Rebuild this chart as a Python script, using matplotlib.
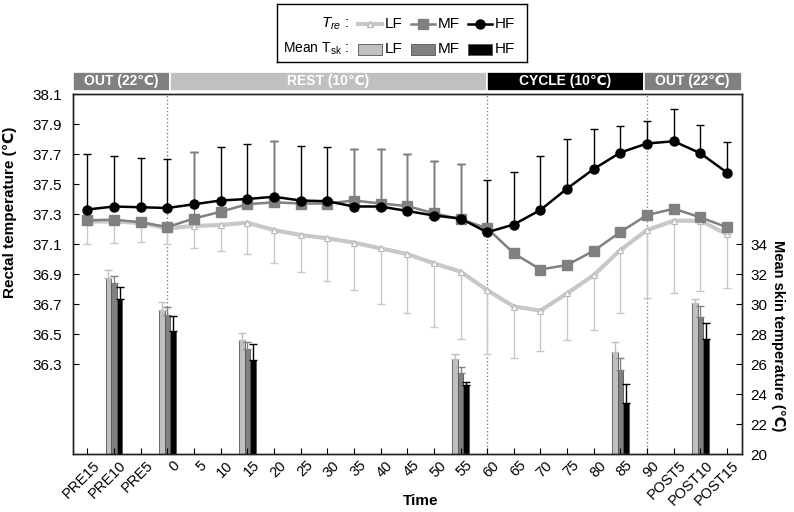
"""Rectal and mean skin temperature across OUT / REST / CYCLE / OUT phases."""
import matplotlib
matplotlib.use("Agg")
import matplotlib.pyplot as plt  # noqa: E402
import matplotlib.transforms as mtrans  # noqa: E402
from matplotlib.patches import Rectangle  # noqa: E402
from matplotlib.lines import Line2D  # noqa: E402
import numpy as np  # noqa: E402

plt.rcParams["font.family"] = ["Liberation Sans", "DejaVu Sans"]
plt.rcParams["mathtext.fontset"] = "custom"
plt.rcParams["mathtext.rm"] = "Liberation Sans"
plt.rcParams["mathtext.it"] = "Liberation Sans:italic"

# ---- data ----
time_labels = ["PRE15", "PRE10", "PRE5", "0", "5", "10", "15", "20", "25", "30",
               "35", "40", "45", "50", "55", "60", "65", "70", "75", "80", "85",
               "90", "POST5", "POST10", "POST15"]

# rectal temperature (mean, SD)
tre_lf = [37.25, 37.25, 37.24, 37.205, 37.22, 37.227, 37.242, 37.193, 37.16, 37.138,
          37.109, 37.071, 37.033, 36.971, 36.916, 36.793, 36.683, 36.656, 36.771,
          36.893, 37.06, 37.193, 37.255, 37.255, 37.165]
tre_lf_sd = [0.152, 0.145, 0.125, 0.107, 0.144, 0.171, 0.209, 0.217, 0.244, 0.285,
             0.316, 0.373, 0.391, 0.422, 0.446, 0.426, 0.345, 0.267, 0.311, 0.366,
             0.418, 0.455, 0.484, 0.466, 0.36]
tre_mf = [37.258, 37.262, 37.245, 37.213, 37.27, 37.315, 37.365, 37.378, 37.37, 37.37,
          37.39, 37.37, 37.353, 37.305, 37.265, 37.205, 37.038, 36.93, 36.96, 37.055,
          37.18, 37.293, 37.335, 37.278, 37.211]
# MF upper SD only where it shows above the HF bar (0 = hidden)
tre_mf_sd = [0, 0, 0, 0, 0.445, 0, 0, 0.411, 0, 0,
             0.341, 0.361, 0.347, 0.348, 0.368, 0, 0, 0, 0, 0, 0, 0, 0, 0, 0]
tre_hf = [37.33, 37.35, 37.345, 37.34, 37.365, 37.39, 37.40, 37.415, 37.39, 37.385,
          37.35, 37.35, 37.32, 37.29, 37.27, 37.178, 37.23, 37.327, 37.47, 37.60,
          37.71, 37.77, 37.785, 37.705, 37.576]
tre_hf_sd = [0.37, 0.34, 0.33, 0.33, 0.35, 0.36, 0.365, 0.374, 0.365, 0.364,
             0.381, 0.381, 0.38, 0.363, 0.363, 0.352, 0.35, 0.363, 0.33, 0.265,
             0.177, 0.15, 0.215, 0.188, 0.202]

# mean skin temperature at selected time points (mean, SD)
tsk_times = ["PRE10", "0", "15", "55", "85", "POST10"]
tsk_lf = [31.71, 29.6, 27.6, 26.33, 26.78, 30.05]
tsk_lf_sd = [0.56, 0.55, 0.45, 0.34, 0.67, 0.26]
tsk_mf = [31.38, 29.27, 26.98, 25.38, 25.6, 29.16]
tsk_mf_sd = [0.51, 0.51, 0.47, 0.44, 0.78, 0.73]
tsk_hf = [30.31, 28.2, 26.27, 24.6, 23.38, 27.64]
tsk_hf_sd = [0.80, 1.02, 1.05, 0.22, 1.27, 1.07]

phases = ["OUT (22℃)", "REST (10℃)", "CYCLE (10℃)", "OUT (22℃)"]
phase_bounds = ["PRE15", "0", "60", "90", "POST15"]
phase_colors = ["#808080", "#c0c0c0", "#000000", "#808080"]

C_LF, C_MF, C_HF = "#c8c8c8", "#808080", "#000000"
BAR_LF, BAR_MF, BAR_HF = "#c0c0c0", "#808080", "#000000"

x = np.arange(len(time_labels))
pos = {lab: i for i, lab in enumerate(time_labels)}
zeros = np.zeros(len(x))

fig = plt.figure(figsize=(7.94, 5.12), dpi=100)
ax = fig.add_axes([73 / 794, 1 - 454 / 512, 668.7 / 794, 360 / 512])
ax2 = ax.twinx()
ax.set_zorder(ax2.get_zorder() + 1)
ax.patch.set_visible(False)

# bars: mean skin temperature on right axis
bx = np.array([pos[t] for t in tsk_times])
w = 0.21
for off, vals, sd, col in [(-w, tsk_lf, tsk_lf_sd, BAR_LF), (0, tsk_mf, tsk_mf_sd, BAR_MF),
                           (w, tsk_hf, tsk_hf_sd, BAR_HF)]:
    ax2.bar(bx + off, np.array(vals) - 20, width=w, bottom=20, color=col,
            edgecolor="#555555", lw=0.6, zorder=2)
    ecol = "#c0c0c0" if col == BAR_LF else col
    ax2.errorbar(bx + off, vals, yerr=[np.zeros(len(vals)), sd], fmt="none",
                 ecolor=ecol, elinewidth=1, capsize=3, capthick=1, zorder=3)
ax2.set_ylim(20, 44)
ax2.set_yticks([20, 22, 24, 26, 28, 30, 32, 34])
ax2.tick_params(axis="y", direction="in", length=4, labelsize=11, pad=6)
ax2.set_ylabel("Mean skin temperature (℃)", rotation=270, fontsize=10.5,
               fontweight="bold", labelpad=14)
ax2.yaxis.set_label_coords(1.065, 0.33)

# lines: rectal temperature on left axis
ax.errorbar(x, tre_lf, yerr=[tre_lf_sd, zeros], fmt="none", ecolor=C_LF,
            elinewidth=1, capsize=3, capthick=1, zorder=2)
ax.plot(x, tre_lf, color=C_LF, lw=3, marker="^", ms=5, mfc="white",
        mec="#b8b8b8", mew=0.8, zorder=3)
ax.errorbar(x, tre_hf, yerr=[zeros, tre_hf_sd], fmt="none", ecolor=C_HF,
            elinewidth=1, capsize=3, capthick=1, zorder=2.2)
mf_sd = np.array(tre_mf_sd)
show = mf_sd > 0
ax.errorbar(x[show], np.array(tre_mf)[show], yerr=[zeros[show], mf_sd[show]],
            fmt="none", ecolor=C_MF, elinewidth=1, capsize=3, capthick=1,
            zorder=2.4)
ax.plot(x, tre_mf, color=C_MF, lw=1.8, marker="s", ms=6.5, zorder=4)
ax.plot(x, tre_hf, color=C_HF, lw=1.8, marker="o", ms=6.5, zorder=5)

for b in phase_bounds[1:-1]:
    ax.axvline(pos[b], color="#808080", ls=":", lw=1, zorder=1)

ax.set_xlim(-0.54, 24.55)
ax.set_ylim(35.7, 38.1)
ax.set_yticks(np.round(np.arange(36.3, 38.11, 0.2), 1))
ax.set_yticklabels([f"{v:.1f}" for v in np.arange(36.3, 38.11, 0.2)])
ax.set_xticks(x)
ax.set_xticklabels(time_labels, rotation=45, ha="right", va="top",
                   rotation_mode="anchor")
ax.tick_params(axis="both", direction="in", length=4, labelsize=11)
ax.tick_params(axis="x", pad=3, labelsize=10.5)
ax.tick_params(axis="y", pad=8)
shift = mtrans.ScaledTranslation(0.05, 0, fig.dpi_scale_trans)
for lab in ax.get_xticklabels():
    lab.set_transform(lab.get_transform() + shift)
ax.set_ylabel("Rectal temperature (℃)", fontsize=11, fontweight="bold")
ax.yaxis.set_label_coords(-0.083, 0.67)
ax.set_xlabel("Time", fontsize=11, fontweight="bold")
ax.xaxis.set_label_coords(0.52, -0.112)
for sp in list(ax.spines.values()) + list(ax2.spines.values()):
    sp.set_color("#222222")
    sp.set_linewidth(1)

# phase header bands
trans = mtrans.blended_transform_factory(ax.transData, ax.transAxes)
edges = [-0.54, 3.1, 15.0, 20.87, 24.55]
for i, (name, col) in enumerate(zip(phases, phase_colors)):
    ax.add_patch(Rectangle((edges[i], 1.008), edges[i + 1] - edges[i], 0.053,
                           transform=trans, facecolor=col, edgecolor="white",
                           lw=1.2, clip_on=False, zorder=6))
    ax.text((edges[i] + edges[i + 1]) / 2, 1.035, name, transform=trans,
            ha="center", va="center", color="white", fontsize=10,
            fontweight="bold", zorder=7)

# legend box
lg = fig.add_axes([277 / 794, 1 - 62 / 512, 250 / 794, 58 / 512])
lg.set_xlim(0, 250)
lg.set_ylim(58, 0)
lg.set_xticks([])
lg.set_yticks([])
for sp in lg.spines.values():
    sp.set_linewidth(1)
lg.text(72, 19.5, r"$T_{re}$ :", ha="right", va="center", fontsize=11)
lg.text(72, 45, r"Mean T$_{\rm sk}$ :", ha="right", va="center", fontsize=10)
for (x0, col, lw, mk, mfc, ms), lab in zip(
        [(81, C_LF, 3, "^", "white", 5), (134, C_MF, 1.8, "s", C_MF, 6.5),
         (191, C_HF, 1.8, "o", C_HF, 6.5)], ["LF", "MF", "HF"]):
    lg.add_line(Line2D([x0, x0 + 24], [19.5, 19.5], color=col, lw=lw))
    lg.add_line(Line2D([x0 + 12], [19.5], marker=mk, ms=ms, mfc=mfc,
                       mec=col if mk != "^" else "#b8b8b8", ls="none"))
    lg.text(x0 + 27, 19.5, lab, ha="left", va="center", fontsize=11)
for x0, col, lab in [(81, BAR_LF, "LF"), (134, BAR_MF, "MF"), (191, BAR_HF, "HF")]:
    lg.add_patch(Rectangle((x0, 39.5), 24, 11, facecolor=col, edgecolor="#555555",
                           lw=0.6))
    lg.text(x0 + 27, 45, lab, ha="left", va="center", fontsize=11)

fig.savefig("out.png", dpi=100)
plt.close(fig)
